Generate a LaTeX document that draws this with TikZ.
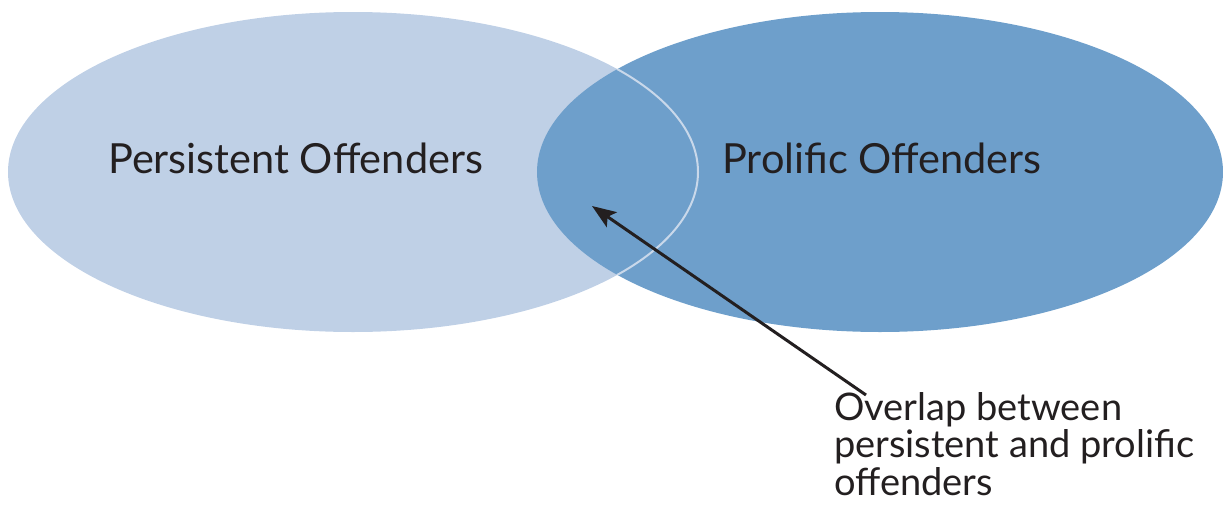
\documentclass[tikz,border=0pt]{standalone}
\usepackage{fontspec}
\setmainfont{Lato}
\usetikzlibrary{shapes.geometric,arrows.meta}
\definecolor{persist}{HTML}{BFD0E6}
\definecolor{prolific}{HTML}{6E9FCB}
\definecolor{rim}{HTML}{C9D8EA}
\definecolor{ink}{HTML}{231F20}
\tikzset{
  venn/.style={ellipse, inner sep=0pt, minimum width=#1, minimum height=320pt},
  biglabel/.style={font=\fontsize{41.5}{48}\selectfont, text=ink, inner sep=0pt, anchor=base west},
  notelabel/.style={font=\fontsize{38}{37.5}\selectfont, text=ink, inner sep=0pt, align=left, anchor=north west},
  pointer/.style={draw=ink, line width=3pt, -{Stealth[length=24pt, width=18pt, inset=5pt]}}
}
\begin{document}
\begin{tikzpicture}[x=1pt,y=-1pt]
\useasboundingbox (0,0) rectangle (1223,506);
\node[venn=690pt, fill=persist] (pers) at (353,172) {};
\node[venn=686pt, fill=prolific] (prol) at (880,172) {};
\begin{scope}
  \clip (880,172) ellipse (343 and 160);
  \draw[rim, line width=2pt] (353,172) ellipse (345 and 160);
\end{scope}
\node[biglabel] (pl) at (108,173) {Persistent Offenders};
\node[biglabel] (rl) at (722,173) {Prolific Offenders};
\node[notelabel] (note) at (834,392) {Overlap between\\persistent and prolific\\offenders};
\coordinate (tail) at (866,395);
\coordinate (tip) at (592,206);
\draw[pointer] (tail) -- (tip);
\end{tikzpicture}
\end{document}
